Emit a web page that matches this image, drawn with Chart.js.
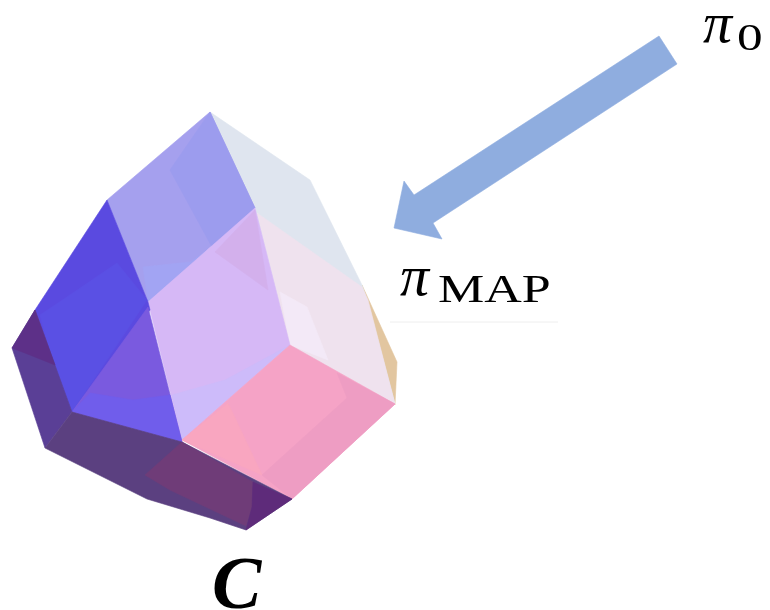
<!DOCTYPE html>
<html>
<head>
<meta charset="utf-8">
<title>polytope</title>
<script src="https://cdn.jsdelivr.net/npm/chart.js@4"></script>
<style>
html, body { margin: 0; padding: 0; background: #fff; overflow: hidden; }
</style>
</head>
<body>
<canvas id="polyChart" width="770" height="610"></canvas>
<script>
// outlines of the faces, back to front
const tanSide = [[362,285],[397,362],[395,405],[370,370]];
const paleUpper = [[210,112],[310,180],[362,285],[367,300],[395,404],[290,345],[255,208]];
const paleLower = [[257,213],[362,287],[368,300],[395,404],[290,345]];
const paleStrip = [[280,292],[307,307],[328,360],[290,345]];
const periLeft = [[107,200],[210,112],[255,208],[148,302]];
const periRight = [[170,170],[210,112],[255,208],[212,247]];
const periLow = [[143,267],[190,262],[212,247],[148,302]];
const lavender = [[148,302],[255,208],[290,345],[182,440]];
const lavenderPink = [[255,210],[215,252],[268,290]];
const lavenderBlue = [[290,345],[182,440],[172,395],[225,380]];
const blue = [[107,200],[148,302],[150,310],[72,412],[35,310]];
const blueLow = [[67,297],[117,263],[147,300],[72,412],[52,360],[40,315]];
const violet = [[148,307],[182,442],[72,412]];
const violetLow = [[90,393],[133,400],[170,395],[182,442],[72,412]];
const pink = [[290,345],[395,404],[292,499],[182,440]];
const pinkLeft = [[228,403],[262,475],[182,440]];
const pinkRight = [[337,373],[395,404],[292,499],[262,475],[347,398]];
const darkLeft = [[35,310],[72,412],[45,448],[12,348]];
const darkLeftTop = [[35,310],[55,365],[30,355],[12,348]];
const darkBottom = [[72,412],[182,442],[292,499],[246,530],[210,518],[147,499],[45,448]];
const plum = [[182,442],[145,475],[170,490],[246,526],[252,507],[253,482]];
const darkTip = [[253,482],[292,499],[246,530],[252,507]];
const arrow = [[659,36],[677,64],[433,223],[442,239],[394,228],[404,181],[414,195]];
const rule = [[390,322],[558,322]];

const faces = [tanSide, paleUpper, paleLower, paleStrip, periLeft, periRight, periLow,
    lavender, lavenderPink, lavenderBlue, blue, blueLow, violet, violetLow,
    pink, pinkLeft, pinkRight, darkLeft, darkLeftTop, darkBottom, plum, darkTip, arrow];
const faceColors = ['#E2C6A0', '#DFE5EF', '#EFE2EE', '#F3E9F7', '#A5A0EE', '#9C9CEE', '#A2A4F3',
    '#D6B8F6', '#D3B0EC', '#CDBBFA', '#5A4AE0', '#5A50E4', '#7A5ADF', '#705DEB',
    '#F5A3C6', '#F9A6C0', '#EE9DC3', '#5A3F96', '#5D3088', '#5B4080', '#6F3C78', '#5E2B7A', '#8FADDF'];

// text labels and where they sit
const labelText = ['π', '0', 'π', 'MAP', 'C'];
const labelX = [703, 737, 400, 438, 212];
const labelY = [42, 50, 295, 302, 608];
const labelFont = ['italic 58px "Liberation Serif"', '38px "Liberation Serif"', 'italic 58px "Liberation Serif"',
    '40px "Liberation Serif"', 'italic bold 74px "Liberation Serif"'];
const labelStretch = [1, 1.35, 1, 1.3, 1];

function toPoints(list) {
    return list.map(p => ({ x: p[0], y: p[1] }));
}

const datasets = faces.map((f, i) => ({
    data: toPoints(f.concat([f[0]])),
    showLine: true,
    fill: 'shape',
    backgroundColor: faceColors[i],
    borderColor: faceColors[i],
    borderWidth: 0.6,
    pointRadius: 0,
    tension: 0
}));
datasets.push({
    data: toPoints(rule),
    showLine: true,
    borderColor: '#EEEEEE',
    borderWidth: 1,
    pointRadius: 0
});

const labelPlugin = {
    id: 'labels',
    afterDraw(chart) {
        const ctx = chart.ctx;
        labelText.forEach((t, i) => {
            ctx.save();
            ctx.fillStyle = '#000';
            ctx.font = labelFont[i];
            ctx.translate(chart.scales.x.getPixelForValue(labelX[i]), chart.scales.y.getPixelForValue(labelY[i]));
            ctx.scale(labelStretch[i], 1);
            ctx.fillText(t, 0, 0);
            ctx.restore();
        });
    }
};

new Chart(document.getElementById('polyChart'), {
    type: 'scatter',
    // chart.js paints index 0 last, so flip to get back to front
    data: { datasets: datasets.reverse() },
    plugins: [labelPlugin],
    options: {
        responsive: false,
        animation: false,
        layout: { padding: 0 },
        scales: {
            x: { type: 'linear', display: false, min: 0, max: 770 },
            y: { type: 'linear', display: false, min: 0, max: 610, reverse: true }
        },
        plugins: {
            legend: { display: false },
            tooltip: { enabled: false }
        }
    }
});
</script>
</body>
</html>
